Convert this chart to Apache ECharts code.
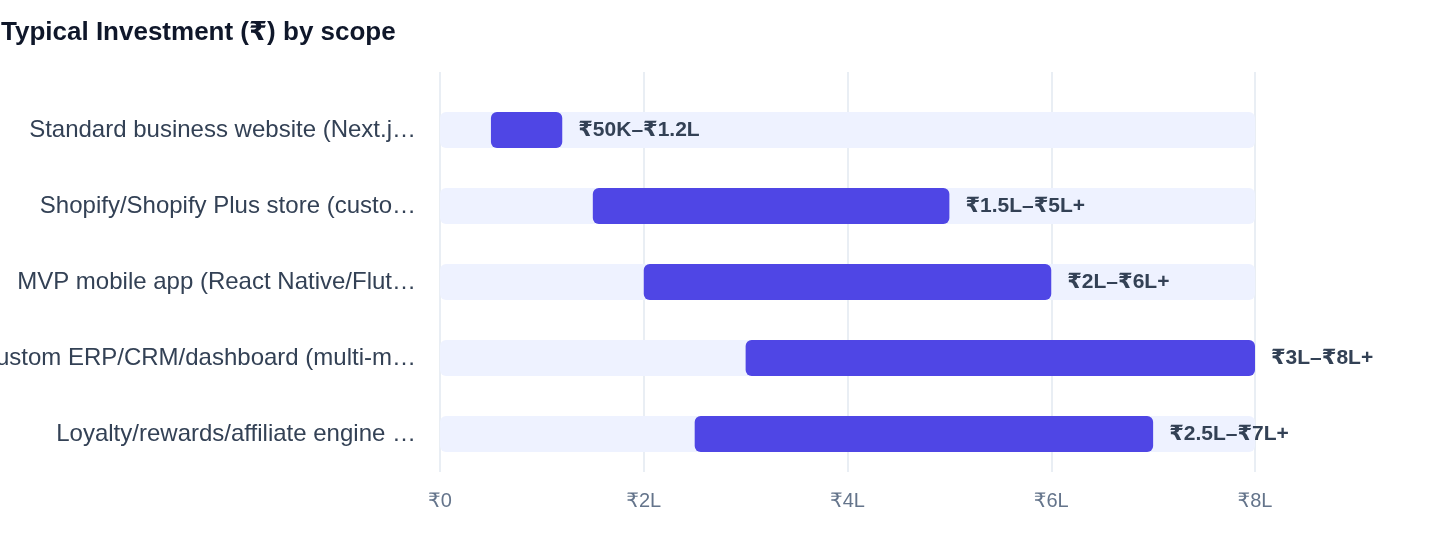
<!DOCTYPE html>
<html>
<head>
<meta charset="utf-8">
<title>Typical Investment by scope</title>
<script src="https://cdn.jsdelivr.net/npm/echarts@6/dist/echarts.min.js"></script>
<style>
  html, body { margin: 0; padding: 0; background: #fff; }
  #chart { width: 1440px; height: 560px; }
</style>
</head>
<body>
<div id="chart"></div>
<script>
// scope names, as shown (cut at 33 chars)
var scopes = [
  'Standard business website (Next.j…',
  'Shopify/Shopify Plus store (custo…',
  'MVP mobile app (React Native/Flut…',
  'Custom ERP/CRM/dashboard (multi-m…',
  'Loyalty/rewards/affiliate engine …'
];
// range in lakh (₹)
var lowVals  = [0.5, 1.5, 2, 3, 2.5];
var highVals = [1.2, 5, 6, 8, 7];
var rangeLabels = ['₹50K–₹1.2L', '₹1.5L–₹5L+', '₹2L–₹6L+', '₹3L–₹8L+', '₹2.5L–₹7L+'];
var axisTicks = [0, 2, 4, 6, 8];

var font = "'Liberation Sans', 'DejaVu Sans', Arial, sans-serif";

var spanVals = [];
for (var i = 0; i < lowVals.length; i++) {
  spanVals.push(+(highVals[i] - lowVals[i]).toFixed(2));
}

var option = {
  animation: false,
  textStyle: { fontFamily: font },
  title: {
    text: 'Typical Investment (₹) by scope',
    left: 1,
    top: 20,
    padding: 0,
    textStyle: { fontFamily: font, fontSize: 26, fontWeight: 'bold', color: '#0f172a' }
  },
  grid: [
    { left: 440, right: 185, top: 92, bottom: 88, outerBoundsMode: 'none', containLabel: false },
    // only for the split lines, which start a little higher
    { left: 440, right: 185, top: 72, bottom: 88, outerBoundsMode: 'none', containLabel: false }
  ],
  xAxis: [
    {
      type: 'value', gridIndex: 0,
      min: axisTicks[0], max: axisTicks[axisTicks.length - 1], interval: 2,
      axisLine: { show: false },
      axisTick: { show: false },
      splitLine: { show: false },
      axisLabel: {
        margin: 19,
        fontSize: 20,
        color: '#64748b',
        fontFamily: font,
        formatter: function (v) { return v === 0 ? '₹0' : '₹' + v + 'L'; }
      }
    },
    {
      type: 'value', gridIndex: 1,
      min: axisTicks[0], max: axisTicks[axisTicks.length - 1], interval: 2,
      axisLine: { show: false },
      axisTick: { show: false },
      axisLabel: { show: false },
      splitLine: { show: true, lineStyle: { color: '#e2e8f0', width: 1.5 } }
    }
  ],
  yAxis: [
    {
      type: 'category', gridIndex: 0,
      data: scopes,
      inverse: true,
      axisLine: { show: false },
      axisTick: { show: false },
      axisLabel: { margin: 24, fontSize: 24, color: '#334155', fontFamily: font }
    },
    { type: 'category', gridIndex: 1, data: scopes, show: false }
  ],
  series: [
    {
      name: 'from',
      type: 'bar',
      stack: 'range',
      barWidth: 36,
      data: lowVals,
      itemStyle: { color: 'transparent' },
      showBackground: true,
      backgroundStyle: { color: '#eef2ff', borderRadius: 6 },
      silent: true
    },
    {
      name: 'range',
      type: 'bar',
      stack: 'range',
      barWidth: 36,
      data: spanVals,
      itemStyle: { color: '#4f46e5', borderRadius: 6 },
      label: {
        show: true,
        position: 'right',
        distance: 16,
        fontSize: 21,
        fontWeight: 'bold',
        color: '#334155',
        fontFamily: font,
        formatter: function (p) { return rangeLabels[p.dataIndex]; }
      }
    }
  ]
};

var myChart = echarts.init(document.getElementById('chart'));
myChart.setOption(option);
</script>
</body>
</html>
